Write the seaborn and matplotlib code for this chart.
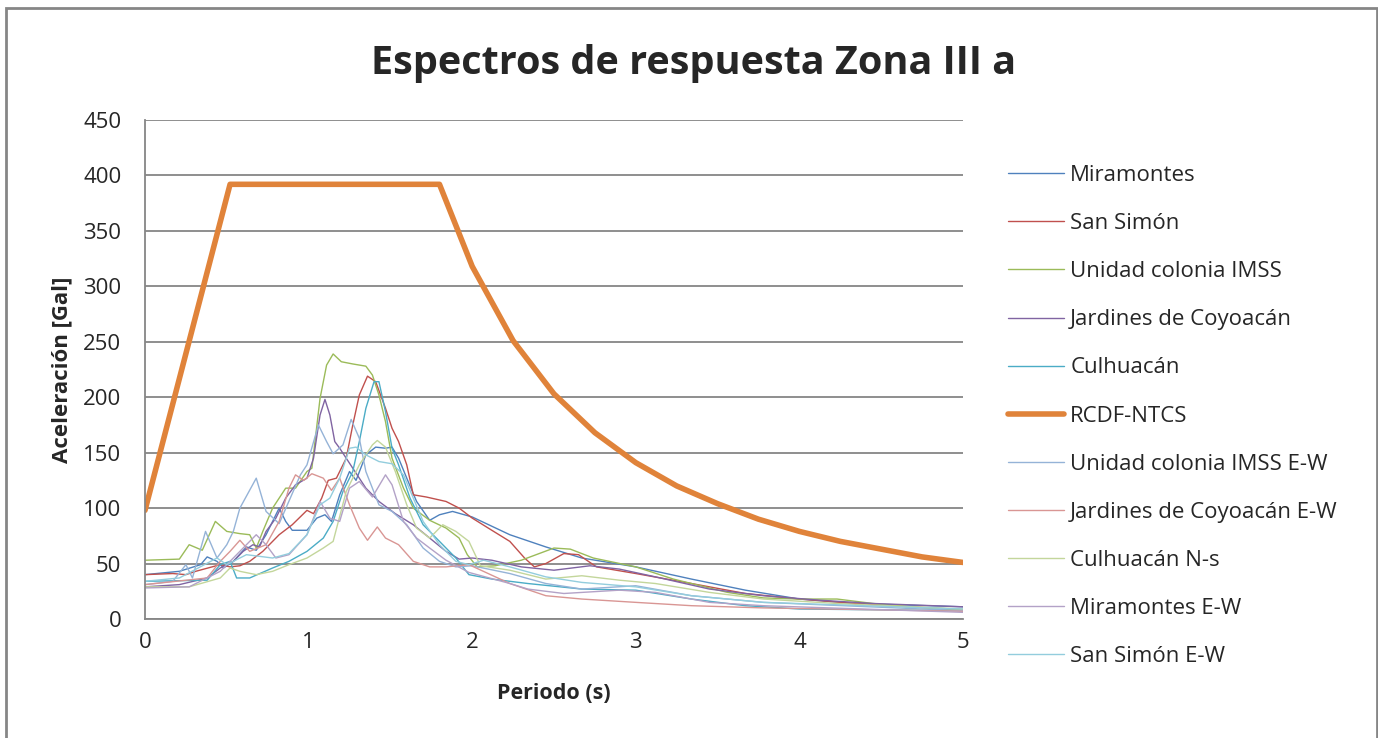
import numpy as np
import pandas as pd
import matplotlib
matplotlib.use('Agg')
import matplotlib.pyplot as plt
import seaborn as sns
from matplotlib.ticker import MultipleLocator
from matplotlib.patches import Rectangle

# 1. DATA (periodo [s], aceleracion [Gal])
mira_t = [0, 0.21, 0.34, 0.38, 0.44, 0.48, 0.54, 0.62, 0.68, 0.74, 0.82, 0.86, 0.9, 0.99, 1.05, 1.1, 1.14, 1.19, 1.25, 1.29,
          1.35, 1.41, 1.47, 1.51, 1.55, 1.6, 1.66, 1.74, 1.8, 1.88, 2.0, 2.23, 2.45, 2.67, 3.0, 3.34, 3.67, 4.0, 4.34, 5.0]
mira_a = [40, 43, 49, 56, 52, 46, 52, 65, 62, 76, 100, 88, 80, 80, 91, 94, 88, 112, 133, 125,
          148, 155, 154, 155, 145, 127, 106, 89, 94, 97, 92, 76, 65, 55, 47, 36, 26, 18, 14, 11]

simon_t = [0, 0.17, 0.25, 0.31, 0.46, 0.52, 0.58, 0.64, 0.72, 0.82, 0.9, 0.99, 1.03, 1.08, 1.12, 1.17, 1.23, 1.27, 1.31, 1.36,
           1.41, 1.47, 1.51, 1.55, 1.6, 1.64, 1.72, 1.84, 1.92, 2.0, 2.12, 2.23, 2.32, 2.38, 2.45, 2.56, 2.65, 2.76, 3.0,
           3.34, 3.67, 4.0, 4.34, 4.67, 5.0]
simon_a = [40, 41, 40, 43, 49, 47, 48, 52, 61, 76, 85, 98, 95, 109, 125, 127, 145, 175, 202, 219,
           214, 190, 172, 160, 139, 112, 110, 106, 100, 91, 80, 70, 55, 47, 50, 59, 58, 47, 41,
           32, 23, 18, 14, 11, 8.5]

imss_t = [0, 0.21, 0.27, 0.35, 0.43, 0.5, 0.58, 0.64, 0.68, 0.72, 0.78, 0.86, 0.92, 0.99, 1.02, 1.07, 1.11, 1.15, 1.2, 1.27,
          1.35, 1.39, 1.43, 1.47, 1.51, 1.58, 1.64, 1.74, 1.84, 1.92, 1.97, 2.03, 2.14, 2.3, 2.5, 2.6, 2.74, 3.0, 3.23,
          3.56, 3.78, 4.0, 4.23, 4.45, 4.67, 5.0]
imss_a = [53, 54, 67, 62, 88, 79, 77, 76, 64, 79, 100, 118, 118, 133, 136, 199, 229, 239, 232, 230,
          228, 220, 202, 178, 145, 118, 100, 89, 82, 73, 58, 47, 48, 53, 64, 63, 55, 47, 36,
          24, 19, 18, 18, 14, 11, 8]

jard_t = [0, 0.21, 0.38, 0.46, 0.54, 0.6, 0.66, 0.7, 0.74, 0.8, 0.86, 0.92, 0.99, 1.03, 1.07, 1.1, 1.13, 1.16, 1.19, 1.27,
          1.35, 1.43, 1.53, 1.64, 1.74, 1.84, 1.92, 2.0, 2.12, 2.3, 2.5, 2.72, 2.9, 3.12, 3.45, 3.78, 4.12, 4.45, 5.0]
jard_a = [29, 31, 37, 46, 52, 61, 67, 65, 79, 91, 109, 121, 127, 145, 184, 198, 184, 160, 154, 136,
          118, 106, 95, 85, 73, 61, 54, 55, 53, 47, 44, 48, 45, 38, 27, 21, 17, 14, 11]

culh_t = [0, 0.38, 0.46, 0.52, 0.56, 0.64, 0.78, 0.88, 0.99, 1.09, 1.15, 1.21, 1.27, 1.31, 1.35, 1.4, 1.43, 1.47, 1.51,
          1.55, 1.62, 1.7, 1.8, 1.9, 1.98, 2.12, 2.34, 2.67, 3.0, 3.34, 3.67, 4.0, 5.0]
culh_a = [34, 35, 49, 52, 37, 37, 46, 52, 61, 73, 88, 115, 133, 160, 190, 214, 214, 187, 154,
          139, 109, 85, 70, 55, 40, 36, 32, 27, 26, 18, 12, 9, 7.5]

rcdf_t = [0, 0.52, 1.8, 2.0, 2.25, 2.5, 2.75, 3.0, 3.25, 3.5, 3.75, 4.0, 4.25, 4.5, 4.75, 5.0]
rcdf_a = [98, 392, 392, 318, 251, 203, 168, 141, 120, 104, 90, 79, 70, 63, 56, 51]

imss_ew_t = [0, 0.17, 0.25, 0.29, 0.37, 0.44, 0.5, 0.54, 0.58, 0.68, 0.74, 0.82, 0.95, 0.99, 1.06, 1.11, 1.15, 1.21,
             1.26, 1.31, 1.35, 1.43, 1.51, 1.6, 1.7, 1.8, 1.9, 2.0, 2.23, 2.45, 2.67, 3.0, 3.34, 3.78, 5.0]
imss_ew_a = [31, 34, 49, 37, 79, 55, 67, 79, 100, 127, 97, 86, 130, 139, 175, 160, 149, 157,
             180, 163, 133, 103, 97, 85, 64, 52, 47, 48, 41, 32, 27, 30, 21, 15, 7.5]

jard_ew_t = [0, 0.38, 0.46, 0.52, 0.58, 0.64, 0.74, 0.82, 0.88, 0.92, 0.97, 1.02, 1.09, 1.14, 1.19, 1.25, 1.31, 1.36,
             1.42, 1.47, 1.55, 1.64, 1.74, 1.84, 1.98, 2.23, 2.45, 2.67, 3.0, 3.34, 3.78, 5.0]
jard_ew_a = [31, 37, 52, 61, 71, 61, 67, 88, 118, 130, 125, 131, 127, 116, 127, 103, 82, 71,
             83, 73, 67, 52, 47, 47, 49, 32, 21, 18, 15, 12, 10, 7]

culh_ns_t = [0, 0.27, 0.46, 0.52, 0.58, 0.68, 0.78, 0.88, 0.99, 1.09, 1.15, 1.23, 1.31, 1.39, 1.42, 1.47, 1.53, 1.6,
             1.66, 1.74, 1.82, 1.9, 1.98, 2.05, 2.23, 2.45, 2.67, 2.9, 3.12, 3.45, 3.78, 4.23, 5.0]
culh_ns_a = [29, 29, 37, 46, 43, 40, 43, 49, 55, 64, 70, 115, 139, 157, 161, 155, 133, 103,
             82, 73, 85, 79, 70, 48, 44, 36, 39, 35, 32, 24, 18, 14, 9]

mira_ew_t = [0, 0.27, 0.46, 0.54, 0.62, 0.68, 0.74, 0.8, 0.88, 0.99, 1.07, 1.13, 1.19, 1.25, 1.31, 1.39, 1.47, 1.51,
             1.58, 1.66, 1.74, 1.84, 1.98, 2.23, 2.34, 2.56, 2.9, 3.12, 3.45, 3.78, 5.0]
mira_ew_a = [28, 29, 43, 55, 67, 76, 67, 55, 58, 76, 106, 91, 88, 118, 124, 110, 130, 121,
             88, 73, 64, 53, 42, 32, 27, 23, 26, 24, 15, 12, 6]

simon_ew_t = [0, 0.21, 0.44, 0.5, 0.62, 0.78, 0.88, 0.99, 1.07, 1.13, 1.19, 1.25, 1.29, 1.35, 1.43, 1.51, 1.58, 1.64,
              1.7, 1.8, 1.9, 1.98, 2.07, 2.23, 2.45, 2.67, 3.0, 3.34, 3.78, 5.0]
simon_ew_a = [34, 37, 55, 49, 58, 55, 59, 76, 103, 109, 127, 154, 155, 148, 142, 140, 130, 109,
              88, 67, 52, 49, 53, 47, 38, 33, 29, 21, 15, 9]

series_names = ['Miramontes', 'San Simón', 'Unidad colonia IMSS', 'Jardines de Coyoacán', 'Culhuacán',
                'RCDF-NTCS', 'Unidad colonia IMSS E-W', 'Jardines de Coyoacán E-W', 'Culhuacán N-s',
                'Miramontes E-W', 'San Simón E-W']
series_data = [(mira_t, mira_a), (simon_t, simon_a), (imss_t, imss_a), (jard_t, jard_a), (culh_t, culh_a),
               (rcdf_t, rcdf_a), (imss_ew_t, imss_ew_a), (jard_ew_t, jard_ew_a), (culh_ns_t, culh_ns_a),
               (mira_ew_t, mira_ew_a), (simon_ew_t, simon_ew_a)]
colors = ['#4F81BD', '#C0504D', '#9BBB59', '#8064A2', '#4BACC6', '#E0833A',
          '#95B3D7', '#D99694', '#C3D69B', '#B3A2C7', '#93CDDD']

# 2. STYLE
sns.set_style('white')
plt.rcParams['font.family'] = ['Open Sans', 'DejaVu Sans']
grey = '#868686'

fig = plt.figure(figsize=(13.78, 7.38), dpi=100)
ax = fig.add_axes([145 / 1378, 1 - 619 / 738, (963 - 145) / 1378, (619 - 120) / 738])

# 3. PLOT
for name, (t, a), c in zip(series_names, series_data, colors):
    lw = 4.0 if name == 'RCDF-NTCS' else 1.0
    sns.lineplot(x=t, y=a, ax=ax, color=c, lw=lw, label=name, sort=False,
                 estimator=None, solid_capstyle='round')

ax.set_xlim(0, 5)
ax.set_ylim(0, 450)
ax.xaxis.set_major_locator(MultipleLocator(1))
ax.xaxis.set_minor_locator(MultipleLocator(0.1))
ax.yaxis.set_major_locator(MultipleLocator(50))
ax.yaxis.set_minor_locator(MultipleLocator(10))
ax.grid(axis='y', which='major', color=grey, lw=1.3)
ax.set_axisbelow(True)
for s in ['top', 'right']:
    ax.spines[s].set_visible(False)
for s in ['left', 'bottom']:
    ax.spines[s].set_color(grey)
    ax.spines[s].set_linewidth(1.3)
ax.tick_params(axis='x', which='major', direction='inout', length=14, width=1.3, color=grey,
               labelsize=16, pad=2)
ax.tick_params(axis='x', which='minor', direction='in', length=6, width=1.0, color=grey)
ax.tick_params(axis='y', which='major', direction='out', length=7, width=1.3, color=grey,
               labelsize=16, pad=10)
ax.tick_params(axis='y', which='minor', direction='in', length=5, width=1.0, color=grey)

ax.set_xlabel('Periodo (s)', fontsize=15.5, fontweight='bold', labelpad=22)
ax.set_ylabel('Aceleración [Gal]', fontsize=16, fontweight='bold', labelpad=8)
fig.suptitle('Espectros de respuesta Zona III a', x=694 / 1378, y=1 - 44 / 738,
             fontsize=28.5, fontweight='bold', va='top')

ax.get_legend().remove()
handles, labels = ax.get_legend_handles_labels()
fig.legend(handles, labels, loc='upper left', bbox_to_anchor=(1008 / 1378, 1 - 165 / 738),
           frameon=False, fontsize=16, labelspacing=1.22, handlelength=2.5,
           handletextpad=0.3, borderpad=0, borderaxespad=0)

# chart area border
fig.patches.append(Rectangle((6 / 1378, -0.05), 1371 / 1378, 1.05 - 8 / 738, transform=fig.transFigure,
                             fill=False, edgecolor=grey, lw=2))

plt.savefig('out.png', dpi=100)
